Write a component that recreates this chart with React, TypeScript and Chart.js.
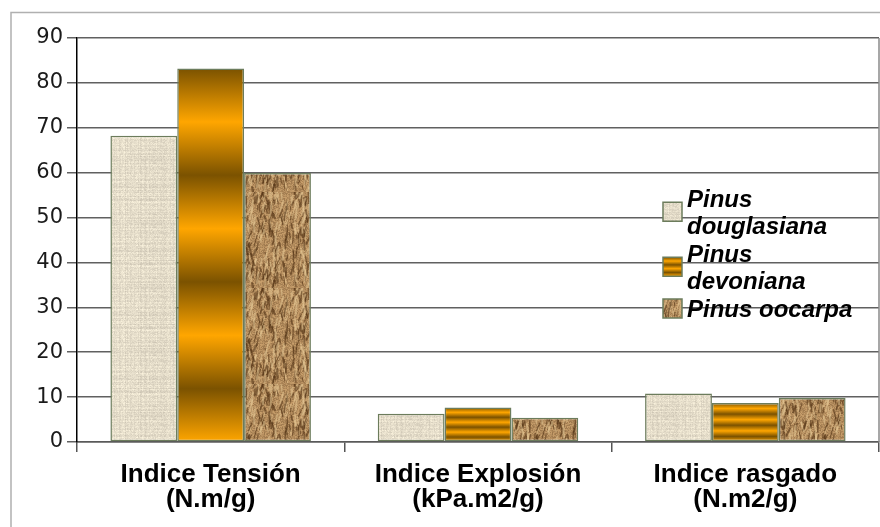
import { useEffect, useRef } from "react";
import { Chart, registerables } from "chart.js";

Chart.register(...registerables);

// ---- data ----
const categories = [
  ["Indice Tensión", "(N.m/g)"],
  ["Indice Explosión", "(kPa.m2/g)"],
  ["Indice rasgado", "(N.m2/g)"],
];
const seriesLabels = [["Pinus", "douglasiana"], ["Pinus", "devoniana"], ["Pinus oocarpa"]];
const douglasiana = [68.2, 6.3, 10.8];
const devoniana = [83.2, 7.7, 8.7];
const oocarpa = [59.9, 5.4, 9.8];
const yMin = 0;
const yMax = 90;
const yStep = 10;

// ---- styling helpers ----
const DARK = "#7b5200";
const BRIGHT = "#ffa600";
const BAR_BORDER = "#6c7c5c";

function rng(seed: number) {
  let s = seed >>> 0;
  return () => {
    s = (Math.imul(s, 1664525) + 1013904223) >>> 0;
    return s / 4294967296;
  };
}

function clamp(v: number) {
  return Math.max(0, Math.min(255, Math.round(v)));
}

function makeLinen(): HTMLCanvasElement {
  const n = 64;
  const c = document.createElement("canvas");
  c.width = n;
  c.height = n;
  const g = c.getContext("2d")!;
  const img = g.createImageData(n, n);
  const r = rng(7);
  const rowOff = Array.from({ length: n }, () => (r() - 0.5) * 18);
  const colOff = Array.from({ length: n }, () => (r() - 0.5) * 14);
  for (let y = 0; y < n; y++) {
    for (let x = 0; x < n; x++) {
      const v = (r() - 0.5) * 24 + rowOff[y] + colOff[x];
      const i = (y * n + x) * 4;
      img.data[i] = clamp(227 + v);
      img.data[i + 1] = clamp(219 + v);
      img.data[i + 2] = clamp(200 + v * 0.9);
      img.data[i + 3] = 255;
    }
  }
  g.putImageData(img, 0, 0);
  return c;
}

function makeBark(): HTMLCanvasElement {
  const n = 96;
  const c = document.createElement("canvas");
  c.width = n;
  c.height = n;
  const g = c.getContext("2d")!;
  const img = g.createImageData(n, n);
  const r = rng(11);
  for (let y = 0; y < n; y++) {
    for (let x = 0; x < n; x++) {
      const v = (r() - 0.5) * 46;
      const i = (y * n + x) * 4;
      img.data[i] = clamp(178 + v);
      img.data[i + 1] = clamp(139 + v * 0.9);
      img.data[i + 2] = clamp(92 + v * 0.7);
      img.data[i + 3] = 255;
    }
  }
  g.putImageData(img, 0, 0);
  g.lineCap = "round";
  for (let k = 0; k < 2; k++) {
    for (let i = 0; i < 240; i++) {
      const x = r() * n;
      const y = r() * n;
      const len = 3 + r() * 9;
      const a = -1.9 + r() * 0.8;
      const dark = i % 2 === 0;
      g.strokeStyle = dark ? "rgba(84,52,22,0.6)" : "rgba(228,198,148,0.55)";
      g.lineWidth = 0.8 + r() * 1.4;
      g.beginPath();
      g.moveTo(x, y);
      g.lineTo(x + Math.cos(a) * len, y + Math.sin(a) * len);
      g.stroke();
    }
  }
  return c;
}

function stripeGradient(ctx: CanvasRenderingContext2D, top: number, bottom: number, halfCycles: number) {
  const grad = ctx.createLinearGradient(0, top, 0, bottom);
  for (let k = 0; k <= halfCycles; k++) {
    grad.addColorStop(k / halfCycles, k % 2 === 0 ? DARK : BRIGHT);
  }
  return grad;
}

export default function App() {
  const ref = useRef<HTMLCanvasElement | null>(null);

  useEffect(() => {
    const canvas = ref.current!;
    const linen = canvas.getContext("2d")!.createPattern(makeLinen(), "repeat")!;
    const bark = canvas.getContext("2d")!.createPattern(makeBark(), "repeat")!;

    const framePlugin = {
      id: "frame",
      beforeDraw(chart: any) {
        const ctx = chart.ctx as CanvasRenderingContext2D;
        ctx.save();
        ctx.fillStyle = "#ffffff";
        ctx.fillRect(0, 0, chart.width, chart.height);
        ctx.strokeStyle = "#b0b0b0";
        ctx.lineWidth = 1.5;
        ctx.beginPath();
        ctx.moveTo(11, chart.height);
        ctx.lineTo(11, 12.5);
        ctx.lineTo(chart.width, 12.5);
        ctx.stroke();
        ctx.restore();
      },
      afterDraw(chart: any) {
        const ctx = chart.ctx as CanvasRenderingContext2D;
        const area = chart.chartArea;
        ctx.save();
        ctx.strokeStyle = "#8a8a8a";
        ctx.lineWidth = 1.5;
        ctx.beginPath();
        ctx.moveTo(area.right, area.top);
        ctx.lineTo(area.right, area.bottom);
        ctx.stroke();

        // legend
        const fills = [linen, null, bark];
        const boxX = area.right - 216;
        const textX = area.right - 192;
        const lineGap = 26.5;
        let baseline = area.top + 169;
        ctx.font = "italic bold 24px 'Liberation Sans', Arial, sans-serif";
        ctx.textBaseline = "alphabetic";
        ctx.textAlign = "left";
        seriesLabels.forEach((lines, i) => {
          const first = baseline;
          const last = baseline + (lines.length - 1) * lineGap;
          const mid = (first + last) / 2 - 8.5;
          const bs = 19;
          const by = mid - bs / 2;
          ctx.fillStyle = (fills[i] as any) || stripeGradient(ctx, by, by + bs, 5);
          ctx.fillRect(boxX, by, bs, bs);
          ctx.strokeStyle = BAR_BORDER;
          ctx.lineWidth = 1.5;
          ctx.strokeRect(boxX, by, bs, bs);
          ctx.fillStyle = "#000";
          lines.forEach((t, j) => ctx.fillText(t, textX, baseline + j * lineGap));
          baseline = last + lineGap + 2;
        });
        ctx.restore();
      },
    };

    const chart = new Chart(canvas, {
      type: "bar",
      data: {
        labels: categories,
        datasets: [
          {
            label: seriesLabels[0].join(" "),
            data: douglasiana,
            backgroundColor: linen,
            borderColor: BAR_BORDER,
            borderWidth: 1.5,
            borderSkipped: false,
          },
          {
            label: seriesLabels[1].join(" "),
            data: devoniana,
            backgroundColor: (c: any) => {
              const ch = c.chart;
              if (c.type !== "data" || !ch.chartArea || !ch.scales.y) return "#e09500";
              const y = ch.scales.y;
              const top = y.getPixelForValue(c.raw as number);
              const bottom = y.getPixelForValue(0);
              return stripeGradient(ch.ctx, top, bottom, 7);
            },
            borderColor: BAR_BORDER,
            borderWidth: 1.5,
            borderSkipped: false,
          },
          {
            label: seriesLabels[2].join(" "),
            data: oocarpa,
            backgroundColor: bark,
            borderColor: BAR_BORDER,
            borderWidth: 1.5,
            borderSkipped: false,
          },
        ],
      },
      options: {
        responsive: false,
        animation: false,
        devicePixelRatio: 1,
        layout: { padding: { left: 0, top: 38, right: 1, bottom: 0 } },
        datasets: { bar: { categoryPercentage: 0.75, barPercentage: 1 } },
        plugins: { legend: { display: false }, tooltip: { enabled: false } },
        scales: {
          x: {
            grid: {
              offset: true,
              drawOnChartArea: false,
              drawTicks: true,
              tickLength: 10,
              color: "#555555",
              lineWidth: 1.5,
            },
            border: { color: "#5a5a5a", width: 1.5 },
            ticks: {
              color: "#000",
              font: { family: "'Liberation Sans', Arial, sans-serif", size: 26, weight: "bold", lineHeight: 0.96 },
              maxRotation: 0,
              autoSkip: false,
              padding: 10,
            },
            afterFit: (s: any) => {
              s.height = 85;
            },
          },
          y: {
            min: yMin,
            max: yMax,
            ticks: {
              stepSize: yStep,
              color: "#1a1a1a",
              font: { family: "'DejaVu Sans', sans-serif", size: 21 },
              padding: 4,
            },
            grid: { color: "#606060", lineWidth: 1.5, tickLength: 10 },
            border: { color: "#000", width: 1.5 },
            afterFit: (s: any) => {
              s.width = 77;
            },
          },
        },
      } as any,
      plugins: [framePlugin],
    });
    return () => chart.destroy();
  }, []);

  return (
    <div style={{ position: "fixed", left: 0, top: 0, width: 880, height: 527, background: "#fff" }}>
      <canvas ref={ref} width={880} height={527} style={{ display: "block" }} />
    </div>
  );
}
